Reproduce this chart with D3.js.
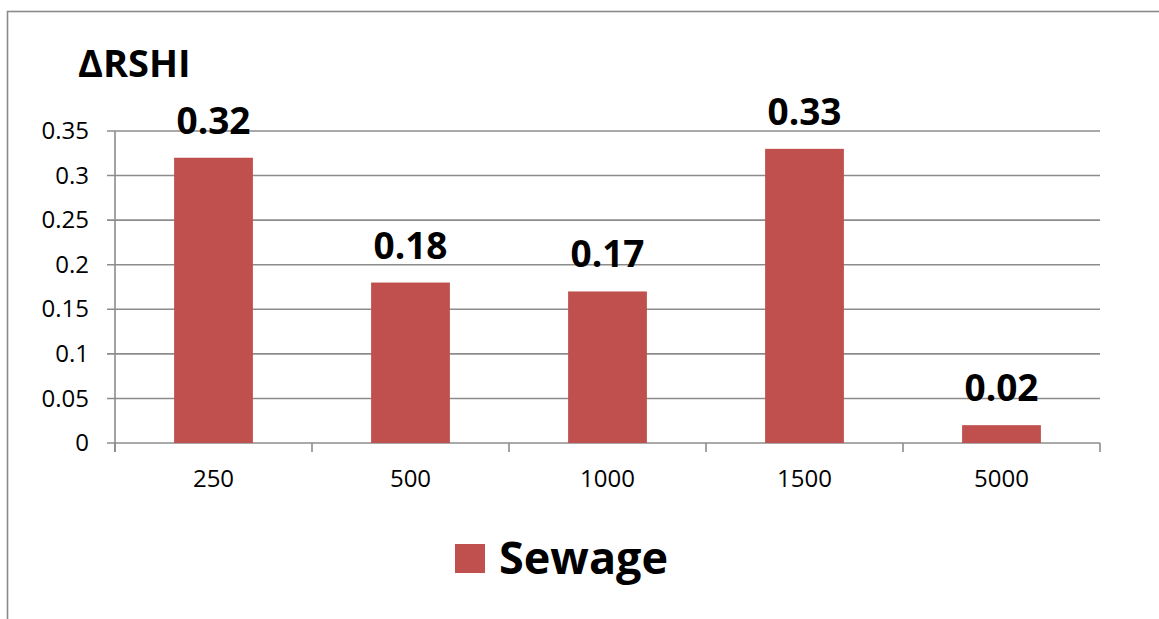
<!DOCTYPE html>
<html>
<head>
<meta charset="utf-8">
<script src="https://cdn.jsdelivr.net/npm/d3@7/dist/d3.min.js"></script>
<style>
  html, body { margin: 0; padding: 0; background: #fff; }
  svg { display: block; font-family: "Open Sans", "DejaVu Sans", sans-serif; }
</style>
</head>
<body>
<svg id="chart" width="1159" height="619"></svg>
<script>
// Change in RSHI by distance band, Sewage series
const categories = ["250", "500", "1000", "1500", "5000"];
const sewageValues = [0.32, 0.18, 0.17, 0.33, 0.02];
const yTicks = [0, 0.05, 0.1, 0.15, 0.2, 0.25, 0.3, 0.35];
const yTickLabels = ["0", "0.05", "0.1", "0.15", "0.2", "0.25", "0.3", "0.35"];
const seriesName = "Sewage";
const axisTitle = "ΔRSHI";

const barColor = "#C0504D";
const gridColor = "#8c8c8c";

const svg = d3.select("#chart");

// chart frame (open at right and bottom)
svg.append("rect")
  .attr("x", 7.5).attr("y", 11.5)
  .attr("width", 1300).attr("height", 800)
  .attr("fill", "none")
  .attr("stroke", "#8a8a8a")
  .attr("stroke-width", 1.6);

const plot = { left: 115, right: 1100, top: 131, bottom: 443 };

const x = d3.scaleBand()
  .domain(categories)
  .range([plot.left, plot.right])
  .paddingInner(0.6)
  .paddingOuter(0.3);

const y = d3.scaleLinear()
  .domain([0, 0.35])
  .range([plot.bottom, plot.top]);

// horizontal gridlines with short ticks left of the axis
svg.append("g")
  .selectAll("line")
  .data(yTicks)
  .join("line")
  .attr("x1", plot.left - 8)
  .attr("x2", plot.right)
  .attr("y1", d => y(d))
  .attr("y2", d => y(d))
  .attr("stroke", gridColor)
  .attr("stroke-width", 1.6);

// y axis labels
const yAxis = d3.axisLeft(y)
  .tickValues(yTicks)
  .tickFormat((d, i) => yTickLabels[i])
  .tickSize(0)
  .tickPadding(26);

svg.append("g")
  .attr("transform", `translate(${plot.left},0)`)
  .call(yAxis)
  .call(g => g.select(".domain").remove())
  .call(g => g.selectAll("text")
    .attr("font-size", 24)
    .attr("font-family", "'Open Sans', sans-serif")
    .attr("fill", "#000"));

// vertical axis line
svg.append("line")
  .attr("x1", plot.left).attr("x2", plot.left)
  .attr("y1", plot.top).attr("y2", plot.bottom + 9)
  .attr("stroke", gridColor)
  .attr("stroke-width", 1.6);

// x axis tick marks at category boundaries
const boundaries = categories.map((c, i) => plot.left + i * x.step());
boundaries.push(plot.right);

svg.append("g")
  .selectAll("line")
  .data(boundaries)
  .join("line")
  .attr("x1", d => d).attr("x2", d => d)
  .attr("y1", plot.bottom).attr("y2", plot.bottom + 9)
  .attr("stroke", gridColor)
  .attr("stroke-width", 1.6);

// category labels
svg.append("g")
  .selectAll("text")
  .data(categories)
  .join("text")
  .attr("x", d => x(d) + x.bandwidth() / 2)
  .attr("y", 487)
  .attr("text-anchor", "middle")
  .attr("font-size", 24)
  .attr("fill", "#000")
  .text(d => d);

// bars
svg.append("g")
  .selectAll("rect")
  .data(sewageValues)
  .join("rect")
  .attr("x", (d, i) => x(categories[i]))
  .attr("y", d => y(d))
  .attr("width", x.bandwidth())
  .attr("height", d => y(0) - y(d))
  .attr("fill", barColor);

// value labels above bars
svg.append("g")
  .selectAll("text")
  .data(sewageValues)
  .join("text")
  .attr("x", (d, i) => x(categories[i]) + x.bandwidth() / 2)
  .attr("y", d => y(d) - 24)
  .attr("text-anchor", "middle")
  .attr("font-size", 37)
  .attr("font-weight", "bold")
  .attr("fill", "#000")
  .text(d => d.toFixed(2));

// axis title
svg.append("text")
  .attr("x", 78)
  .attr("y", 77)
  .attr("font-size", 38)
  .attr("font-weight", "bold")
  .attr("fill", "#000")
  .text(axisTitle);

// legend
const legend = svg.append("g");
legend.append("rect")
  .attr("x", 455).attr("y", 544)
  .attr("width", 30).attr("height", 29)
  .attr("fill", barColor);
legend.append("text")
  .attr("x", 499)
  .attr("y", 574)
  .attr("font-size", 45)
  .attr("font-weight", "bold")
  .attr("fill", "#000")
  .text(seriesName);
</script>
</body>
</html>
